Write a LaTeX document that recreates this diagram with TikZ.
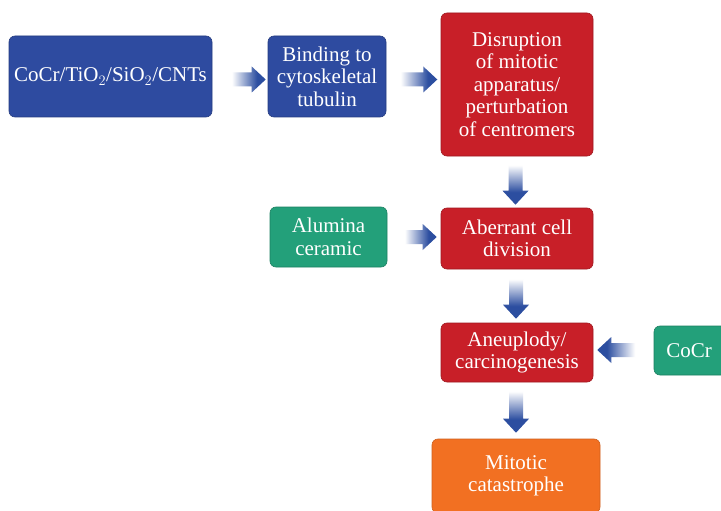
\documentclass[tikz,border=0pt]{standalone}
\usepackage{fontspec}
\setmainfont{Liberation Serif}
\usetikzlibrary{calc}
\definecolor{bblue}{RGB}{46,75,160}
\definecolor{bred}{RGB}{200,31,40}
\definecolor{bgreen}{RGB}{35,160,122}
\definecolor{borange}{RGB}{242,112,34}
\definecolor{ablue}{RGB}{44,78,160}
\pgfdeclarehorizontalshading{arrright}{100bp}{color(0bp)=(white); color(28bp)=(white); color(63bp)=(ablue); color(100bp)=(ablue)}
\pgfdeclarehorizontalshading{arrleft}{100bp}{color(0bp)=(ablue); color(37bp)=(ablue); color(72bp)=(white); color(100bp)=(white)}
\pgfdeclareverticalshading{arrdown}{100bp}{color(0bp)=(ablue); color(40bp)=(ablue); color(72bp)=(white); color(100bp)=(white)}
% block arrows: #1 tip, #2 shaft length
\newcommand\arrR[2]{\path[shade,shading=arrright] #1 -- ++(-14,-13) -- ++(0,6) -- ++(-#2,0) -- ++(0,14) -- ++(#2,0) -- ++(0,6) -- cycle;}
\newcommand\arrL[2]{\path[shade,shading=arrleft] #1 -- ++(14,-13) -- ++(0,6) -- ++(#2,0) -- ++(0,14) -- ++(-#2,0) -- ++(0,6) -- cycle;}
\newcommand\arrD[2]{\path[shade,shading=arrdown] #1 -- ++(-13,-14) -- ++(6,0) -- ++(0,-#2) -- ++(14,0) -- ++(0,#2) -- ++(6,0) -- cycle;}
\begin{document}
\begin{tikzpicture}[x=1pt,y=-1pt,
  box/.style={rounded corners=6pt, align=center, text=white, inner sep=1pt,
    font=\fontsize{21}{22.5}\selectfont, line width=0.6pt},
  bluebox/.style={box, fill=bblue, draw=bblue!80!black},
  redbox/.style={box, fill=bred, draw=bred!80!black},
  greenbox/.style={box, fill=bgreen, draw=bgreen!80!black},
  orangebox/.style={box, fill=borange, draw=borange!85!black}]
\useasboundingbox (0,0) rectangle (721,511);
\clip (0,0) rectangle (721,511);
\fill[white] (0,0) rectangle (721,511);

\node[bluebox, minimum width=203, minimum height=81] (a) at (110.5,76.5) {CoCr/TiO$_2$/SiO$_2$/CNTs};
\node[bluebox, minimum width=118, minimum height=81] (b) at (327,76.5) {Binding to\\cytoskeletal\\tubulin};
\node[redbox, minimum width=152, minimum height=143] (c) at (517,84.5) {Disruption\\of mitotic\\apparatus/\\perturbation\\of centromers};
\node[greenbox, minimum width=117, minimum height=60] (d) at (328.5,237) {Alumina\\ceramic};
\node[redbox, minimum width=152, minimum height=61] (e) at (517,238.5) {Aberrant cell\\division};
\node[redbox, minimum width=152, minimum height=59] (f) at (517,352.5) {Aneuplody/\\carcinogenesis};
\node[greenbox, minimum width=82, minimum height=49] (g) at (695,350.5) {CoCr\hspace*{12pt}};
\node[orangebox, minimum width=168, minimum height=74] (h) at (516,476) {Mitotic\\catastrophe};

\arrR{($(b.west)+(-2,3)$)}{22}
\arrR{($(b.east)+(51,3)$)}{25}
\arrR{($(e.west)+(-4,-1.5)$)}{20}
\arrL{($(f.east)+(4,-2.5)$)}{26}
\arrD{($(e.north)+(-1.5,-3)$)}{28}
\arrD{($(f.north)+(-1,-4)$)}{28}
\arrD{($(h.north)+(0,-6)$)}{30}
\end{tikzpicture}
\end{document}
